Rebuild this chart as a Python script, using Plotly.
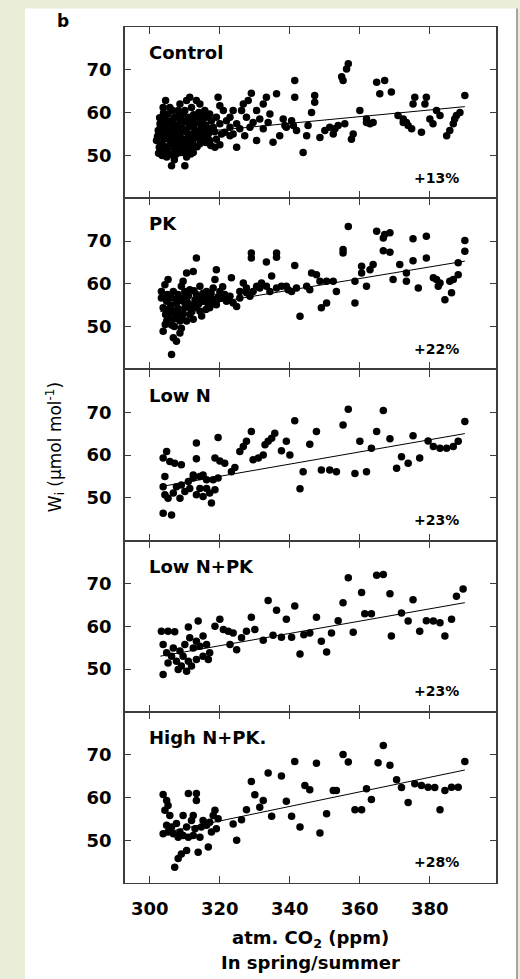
import plotly.graph_objects as go

# ---------------- data ----------------
panel_names = ["Control", "PK", "Low N", "Low N+PK", "High N+PK."]
panel_changes = ["+13%", "+22%", "+23%", "+23%", "+28%"]
x_ticks = [300, 320, 340, 360, 380]
y_ticks = [50, 60, 70]
x_title_lines = ["atm. CO<sub>2</sub> (ppm)", "In spring/summer"]

control_pts = [
    (304.5,62.8),(305.7,61.2),(311.4,63.6),(313.3,62.8),(319.5,63.6),(320,61.6),(323.8,60.5),(329,64.5),
    (333.3,63.6),(336.2,64.4),(341.4,67.5),(341.4,63.6),(347.1,64),(347.1,62.4),(346.2,60),(355.2,67.5),
    (356.7,71.4),(356.2,70.2),(354.8,68.4),(360,60.5),(361.9,57.7),(362.9,57.4),(364.8,67.1),(367.1,67.5),
    (365.7,64.4),(369,64.8),(370.9,59.3),(372.4,58.5),(373.8,57),(375.7,63.6),(375.2,62),(379,63.6),
    (378.6,62),(377.6,55.4),(380.9,57.4),(381.9,60.5),(382.9,59.3),(384.8,54.6),(386.7,57.4),(387.6,59.3),
    (390,64),(372.4,57.7),(357.6,53.8),(358.1,55),(348.6,54.2),(350,55.8),(351.4,56.6),(352.9,56.2),
    (353.8,57),(343.8,50.7),(344.8,54.6),(345.2,57),(340.5,58.1),(339,56.6),(338.1,58.5),(335.2,53.1),
    (330.5,53.5),(332.4,56.2),(333.8,57.7),(331.4,58.5),(327.6,58.9),(326.2,60.5),(324.8,51.9),(327.1,54.6),
    (322.9,56.6),(321.4,55.4),(319,53.8),(318.1,56.6),(316.7,58.9),(315.2,54.6),(314.3,52.7),(312.4,50.7),
    (310.5,49.6),(310,47.6),(306.2,47.6),(318.6,51.9),(321,60.5),(322.9,58.9),(323.8,55),
    (302.9,57.4),(303.3,55),(303.3,52.7),(303.8,51.1),(304.8,49.6),(304.3,59.3),(305.2,56.6),(305.7,53.5),
    (306.7,51.9),(307.6,50.3),(307.1,58.9),(308.1,60.5),(308.6,55),(309,57.4),(310,53.5),(310.5,51.9),
    (311,58.9),(311.9,61.2),(312.4,56.6),(313.3,54.2),(313.8,59.3),(314.8,57.4),(315.7,60.5),(316.2,55.8),
    (317.1,53.5),(317.6,58.1),(301.9,53.5),(302.4,55.8),(302.7,51.9),(303.6,58.1),(304.8,54.2),(305.7,55.8),
    (306.2,58.1),(306.7,54.2),(307.6,55.8),(308.6,52.7),(309,50.7),(309.5,59.7),(310.5,55.4),(311.4,54.2),
    (311.9,51.9),(312.9,58.9),(314.3,55.8),(315.2,58.5),(316.7,55),(303.8,61.2),(305.2,59.7),(308.6,62),
    (310.5,62.8),(314.3,62),(317.1,59.7),(319,58.9),(320,57.4),(321.9,58.1),(320.5,55),(322.9,54.6),
    (324.8,57.4),(325.7,56.2),(328.6,56.6),(329.5,57.7),(328.1,62.8),(326.7,62),(330.5,60.5),(332.4,62),
    (334.3,59.7),(337.1,54.6),(338.6,57),(341,57),(341.9,55.8),(352.4,55),(355.7,57.4),(361.9,58.5),
    (363.8,57.7),(373.3,57.7),(374.8,56.2),(380,58.5),(385.7,55.8),(388.6,60),(387.1,58.5),
    (302.5,50.5),(304,53.8),(306,56.2),(307.5,53),(308,57),(309.8,56),(311,52.5),(312,55),(313,57.5),
    (305,51),(303,56.5),(307,49),(309,54),(313.5,52),(315.5,56.5),(316,53),(312.5,59.5),(306.5,60.5),
    (304,57.5),(310,60.5),(308.5,58.5),(314,60),(318.5,55.5),(320,52.5),
    (302.2,54.5),(302.8,58.8),(303.5,50),(304.2,55.9),(304.6,52),(305.4,58),(305.9,50.2),(306.4,54.8),
    (306.9,57.3),(307.3,51.2),(307.9,54.4),(308.3,59.5),(308.8,51.6),(309.3,56),(309.7,52),(310.2,57.8),
    (310.8,54),(311.3,56.8),(311.7,50.3),(312.2,53.3),(312.7,57.4),(313.1,55.5),(313.6,58.3),(314,54.5),
    (314.6,56.3),(315,53.8),(315.4,59.2),(316,57.1),(316.4,54.3),(317,56.2),(317.4,52.3),(303.9,59.9),
    (305.1,55),(306.1,52.6),(307.2,55.6),(308.1,52),(309.1,58.2),(310.3,50.6),(311.5,57.9),(312.1,51.5),
]

pk_pts = [
    (356.7,73.4),(355.2,68),(355.2,67.2),(364.8,72.3),(367.1,71.5),(368.6,71.9),(366.7,70.7),(366.7,67.7),
    (368.6,67.4),(375.2,70.5),(379,71.1),(375.2,65.4),(379,66),(390,70.1),(390,67.6),(388.1,64.9),
    (388.1,62.1),(386.7,61),(385.7,60.6),(386.2,57.9),(384.3,56.3),(381,61.4),(381.9,61),(382.9,60.2),
    (382.4,59.4),(376.7,59),(373.3,60.6),(373.3,62.5),(371.4,64.5),(369.5,61),(363.8,64.5),(362.9,63.3),
    (360.5,64.1),(360.5,62.5),(358.6,60.6),(361.9,59.4),(358.6,55.5),(353.3,58.2),(352.4,60.6),(350.5,60.6),
    (348.6,60.6),(349,54.4),(350.5,55.5),(346.2,62.5),(347.6,62.1),(344.8,59.4),(345.7,58.6),(342.9,52.4),
    (341.4,64.3),(340.5,58.2),(339.5,58.6),(337.6,59.4),(336.2,59),(336.2,67.2),(336.2,66.2),(333.3,65.1),
    (334.8,61.8),(329,67.2),(329,66),(331.9,60.2),(330.5,59.4),(329.5,58.2),(326.7,60.2),(327.6,57.9),
    (325.7,56.7),(323.8,55.5),(324.8,54.7),(323.3,61.4),(319,63.3),(318.6,61),(318.1,59),(320,58.2),
    (321.4,57.5),(317.1,56.7),(319,55.1),(313.3,66),(310.5,62.5),(312.4,62.9),(309.5,60.6),(309,59.4),
    (305.2,61),(304.3,59.8),(303.3,58.2),(303.3,56.7),(303.8,48.9),(306.2,43.5),(307.6,46.6),(306.7,47.4),
    (304.8,55.9),(305.2,54),(305.7,52),(306.2,50.4),(306.7,53.6),(307.6,55.5),(308.6,51.3),(309,49.6),
    (310,54.4),(310.5,56.7),(311.4,52.8),(312.4,55.1),(313.3,57.5),(314.3,53.6),(315.2,55.9),(316.2,58.2),
    (317.1,54.4),(310,58.2),(311.4,58.6),(314.3,59.4),(315.2,57.8),(306.7,58.2),(308.1,57.5),(306.2,56.7),
    (312.4,51.7),(310.5,51.3),(309.5,55.9),(314.3,55.9),(318.1,56.3),(320.5,56.7),(321.9,55.9),(322.9,57.1),
    (325.7,58.2),(327.6,59),(328.6,57.1),(331.4,59),(333.3,59.4),(334.3,58.2),(339,59.4),(341.9,59),
    (303.8,54.4),(304.8,51.3),(307.6,52.8),(308.6,48.5),(311,55.1),(312.9,56.3),
    (305,57.5),(307,50),(308,54.2),(309.5,53),(311,57.2),(313,54.5),(315.8,56.8),(317.5,57.8),(319.5,57),
    (304.5,52.8),(306,55),(308.5,56.5),(312,53.5),(314.8,52.5),(316.5,55.5),(320.8,59.3),(322.5,56.2),
    (305.6,57.2),(306.9,51.8),(307.9,56.6),(309.2,52.3),(310.8,55.6),(311.8,54),(313.8,56.9),(316,54),
    (317.8,55.3),(319.2,56.3),(304.4,50.5),(305.4,53),(308.2,53.4),(309.9,57),(312.6,58.4),(313.9,55.2),
]

lown_pts = [
    (341.4,68),(356.7,70.7),(366.7,70.4),(355.2,67),(347.6,65.5),(345.7,62.5),(339,63.2),(337.6,61),
    (340,60),(335.7,65.1),(334.8,63.9),(333.8,63.2),(332.9,62.4),(329,65.5),(327.6,63.2),(326.7,62),
    (325.7,60.8),(332.4,60),(331,59.3),(329.5,58.9),(324.3,57.1),(323.3,56.1),(319.5,64.1),(313.3,62.8),
    (313.3,59.1),(318.6,59.3),(320,58.6),(321.4,58.1),(304.8,60.8),(303.8,59.3),(305.7,58.5),(307.1,58.1),
    (309,57.7),(304.3,55),(343.8,56.1),(342.9,52.1),(349,56.5),(351.4,56.5),(353.3,56.1),(358.6,55.7),
    (361.9,56.1),(360,63.2),(363.3,61.6),(364.8,65.5),(368.6,63.8),(370.5,56.9),(371.9,59.6),(373.8,58.1),
    (375.2,64.5),(377.1,59.3),(379.5,63.3),(381,62),(382.9,61.6),(384.8,61.6),(386.7,62),(388.1,63.2),
    (390,67.8),(303.8,52.6),(304.3,50.7),(303.8,46.4),(306.2,46),(305.2,49.9),(306.7,51.1),(308.6,49.9),
    (310,51.5),(307.6,52.6),(311,53.8),(312.4,54.6),(314.3,55),(316.2,54.2),(318.1,54.2),(319.5,54.6),
    (314.3,52.2),(313.3,50.7),(315.2,50.3),(317.1,51.1),(317.6,48.8),(316.2,52.2),(318.6,51.9),(311.4,52.2),
    (312.4,55.3),(315.2,55.3),(309,53),
]

lownpk_pts = [
    (356.7,71.3),(364.8,71.9),(366.7,72.1),(360.5,67.9),(368.6,67.6),(355.2,65.5),(389.5,68.7),(387.6,67),
    (375.2,66.2),(371.9,63.1),(373.8,61.2),(369,57.7),(377.1,58.8),(379,61.3),(381,61.2),(382.9,60.8),
    (384.3,57.7),(386.2,61.6),(361.4,62.9),(363.3,62.9),(358.1,58.6),(353.8,61.3),(351.9,58.4),(350.5,54),
    (349,56.5),(347.6,62.1),(345.7,58.4),(342.9,53.5),(340.5,57.4),(344,58),(341.4,64.7),(339,61.6),
    (336.2,63.7),(333.8,66),(337.6,57.4),(335.2,57.9),(332.4,56.7),(329,62.1),(330,59.2),(327.6,58.8),
    (326.2,57.3),(324.8,54.5),(320,61.6),(318.6,60),(321,59.2),(322.4,58.8),(323.8,58.4),(322.9,55.7),
    (313.8,61.2),(311,59.8),(303.3,58.8),(305.2,58.8),(307.1,58.7),(303.8,55.7),(303.8,48.7),(315.2,57.7),
    (313.3,56.5),(316.2,55.7),(314.3,55.3),(312.4,54.9),(317.1,53.8),(316.7,52.2),(315.2,53),(313.3,52.2),
    (311.9,50.7),(310.5,49.5),(309,50.7),(307.6,51.8),(306.2,53),(305.2,51.4),(306.7,54.9),(308.6,54.2),
    (310,55.7),(311.4,57.3),(309.5,53),(311,51.8),(308.1,49.9),(304.8,53.8),
]

highnpk_pts = [
    (366.7,72.1),(355.2,70),(356.7,68.3),(365.2,68.1),(368.6,67.5),(390,68.4),(341.4,68.4),(347.6,68),
    (333.8,65.7),(337.6,65),(329,63.7),(330,60.6),(332.4,59.3),(331.4,57.7),(344.3,62.8),(345.7,61.8),
    (339,59.1),(334.8,55.6),(340.5,55.6),(342.9,53.1),(348.6,51.7),(350.5,56.2),(352.4,61.6),(353.3,61.6),
    (358.6,57.1),(360.5,57.1),(361.9,62),(363.3,59.5),(370.5,64.1),(371.9,62.3),(373.8,58.8),(375.7,63.2),
    (377.6,62.8),(379.5,62.4),(381.4,62.3),(382.9,57.1),(384.3,61.6),(386.2,62.4),(388.1,62.4),(327.6,57.1),
    (326.2,54.8),(323.8,53.8),(324.8,50),(303.8,60.7),(304.8,59.3),(305.2,58.1),(304.3,57),(305.7,55.8),
    (304.8,53.5),(303.8,51.5),(305.2,51.9),(306.7,51.5),(308.1,50.7),(309.5,51.1),(311,50.7),(312.4,51.1),
    (314.3,50.7),(307.1,43.7),(308.1,45.7),(309,46.8),(310.5,47.6),(313.8,47.2),(316.7,48.4),(311,60.9),
    (313.3,60.9),(313.3,59.3),(309.5,55.8),(312.4,55.8),(311.9,54.6),(307.6,53.9),(315.2,54.6),(316.2,53.5),
    (314.7,53.1),(317.6,51.9),(318.6,57),(318.1,55.8),(319.5,55),(319,52.7),(317.1,54.2),(306.2,53.1),
    (308.6,51.9),(310.5,53.1),(312.9,52.7),
]

panel_points = [control_pts, pk_pts, lown_pts, lownpk_pts, highnpk_pts]

trend_x = [303, 390]
trend_y = [
    [54.6, 61.4],
    [53.5, 65.3],
    [52.6, 65.0],
    [53.0, 65.5],
    [51.6, 66.4],
]

# ---------------- figure ----------------
FONT = "DejaVu Sans"
AX = "#3c3c3c"
BEIGE = "#eaedd8"
fig = go.Figure()
n = len(panel_names)

for i in range(n):
    xs = [p[0] for p in panel_points[i]]
    ys = [p[1] for p in panel_points[i]]
    xa = "x" if i == 0 else f"x{i+1}"
    ya = "y" if i == 0 else f"y{i+1}"
    fig.add_trace(go.Scatter(x=xs, y=ys, mode="markers", xaxis=xa, yaxis=ya,
                             marker=dict(color="black", size=7.5, line=dict(width=0)),
                             showlegend=False, hoverinfo="skip"))
    fig.add_trace(go.Scatter(x=trend_x, y=trend_y[i], mode="lines", xaxis=xa, yaxis=ya,
                             line=dict(color="black", width=1), showlegend=False, hoverinfo="skip"))

    top = 1 - i / n
    bot = 1 - (i + 1) / n
    xkey = "xaxis" if i == 0 else f"xaxis{i+1}"
    ykey = "yaxis" if i == 0 else f"yaxis{i+1}"
    fig.layout[xkey] = dict(
        domain=[0, 1], anchor=ya, range=[292.9, 398.9],
        tickvals=x_ticks, ticktext=[str(v) for v in x_ticks],
        showticklabels=(i == n - 1), ticks="inside", ticklen=7, tickwidth=1.3,
        tickcolor=AX, showline=True, linecolor=AX, linewidth=1.2, mirror="ticks",
        showgrid=False, zeroline=False, ticklabelstandoff=9,
        tickfont=dict(family=FONT, size=18, color="black", weight="bold"),
    )
    if i > 0:
        fig.layout[xkey]["matches"] = "x"
    fig.layout[ykey] = dict(
        domain=[bot, top], anchor=xa, range=[40, 80],
        tickvals=y_ticks, ticktext=[str(v) for v in y_ticks],
        ticks="inside", ticklen=6, tickwidth=1.3, tickcolor=AX,
        showline=True, linecolor=AX, linewidth=1.6, mirror="ticks",
        showgrid=False, zeroline=False, ticklabelstandoff=8,
        tickfont=dict(family=FONT, size=18, color="black", weight="bold"),
    )
    fig.add_annotation(x=299.3, y=74, xref=xa, yref=ya, text=panel_names[i],
                       showarrow=False, xanchor="left", yanchor="middle",
                       font=dict(family=FONT, size=18, color="black", weight="bold"))
    fig.add_annotation(x=388.8, y=44.8, xref=xa, yref=ya, text=panel_changes[i],
                       showarrow=False, xanchor="right", yanchor="middle",
                       font=dict(family=FONT, size=14, color="black", weight="bold"))

# x-axis title (two lines), y-axis title and panel letter
for line_text, ypos in zip(x_title_lines, [-0.066, -0.093]):
    fig.add_annotation(x=0.5, y=ypos, xref="paper", yref="paper", text=line_text,
                       showarrow=False, xanchor="center", yanchor="middle",
                       font=dict(family=FONT, size=18, color="black", weight="bold"))
fig.add_annotation(x=-0.189, y=0.509, xref="paper", yref="paper",
                   text="W<sub>i</sub> (µmol mol<sup>-1</sup>)", showarrow=False, textangle=-90,
                   xanchor="center", yanchor="middle",
                   font=dict(family=FONT, size=17, color="black"))
fig.add_annotation(x=-0.167, y=1.007, xref="paper", yref="paper", text="b", showarrow=False,
                   xanchor="center", yanchor="middle",
                   font=dict(family=FONT, size=17, color="black", weight="bold"))

# page: white sheet with pale beige strips at the left and top, grey rule at the right
fig.add_shape(type="rect", xref="paper", yref="paper", x0=-0.40, x1=-0.2695, y0=-0.2, y1=1.1,
              fillcolor=BEIGE, line=dict(width=0), layer="above")
fig.add_shape(type="rect", xref="paper", yref="paper", x0=-0.40, x1=1.2, y0=1.0215, y1=1.1,
              fillcolor=BEIGE, line=dict(width=0), layer="above")
fig.add_shape(type="rect", xref="paper", yref="paper", x0=1.0566, x1=1.2, y0=-0.2, y1=1.1,
              fillcolor=BEIGE, line=dict(width=0), layer="above")
fig.add_shape(type="line", xref="paper", yref="paper", x0=1.0566, x1=1.0566, y0=-0.2, y1=1.0215,
              line=dict(color="#8a8a8a", width=1.5), layer="above")

fig.update_layout(
    width=520, height=979,
    margin=dict(l=125, r=24, t=27, b=96),
    paper_bgcolor="white", plot_bgcolor="white",
)

fig.write_html("out.html")
